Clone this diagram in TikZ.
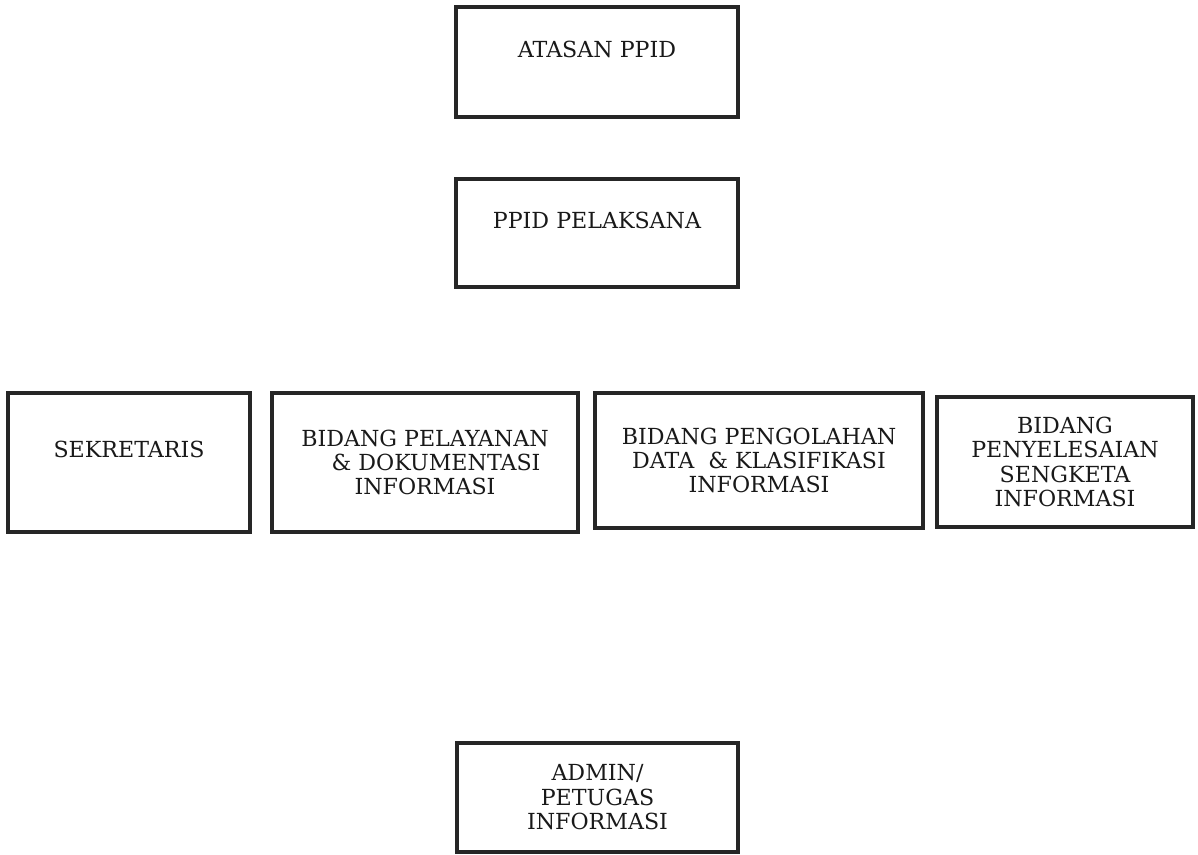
\documentclass[tikz,border=0pt]{standalone}
\usepackage{fontspec}
\setmainfont{DejaVu Serif}
\usepackage{tikz}

\tikzset{
	unitbox/.style={draw=black!85, line width=1.8pt, rectangle, align=center,
		font=\fontsize{12.6}{13.9}\selectfont, text=black!90, inner sep=2pt},
	raised/.style={text height=0.32cm, text depth=0.5cm}
}

\begin{document}
\begin{tikzpicture}
			%%%%% START %%%%%
			
			\useasboundingbox (0, 0) rectangle (23.96, 17.1);
			
			\node[unitbox, raised, minimum width=5.64cm, minimum height=2.2cm] (atasan) at (11.94, 15.86) {ATASAN PPID};
			
			\node[unitbox, raised, minimum width=5.64cm, minimum height=2.16cm] (pelaksana) at (11.94, 12.44) {PPID PELAKSANA};
			
			\node[unitbox, raised, minimum width=4.84cm, minimum height=2.78cm] (sekretaris) at (2.58, 7.85) {SEKRETARIS};
			\node[unitbox, minimum width=6.12cm, minimum height=2.78cm] (pelayanan) at (8.5, 7.85) {BIDANG PELAYANAN\\ \quad\& DOKUMENTASI\\ INFORMASI};
			\node[unitbox, minimum width=6.56cm, minimum height=2.7cm] (pengolahan) at (15.18, 7.89) {BIDANG PENGOLAHAN\\ DATA \ \& KLASIFIKASI\\ INFORMASI};
			\node[unitbox, minimum width=5.12cm, minimum height=2.6cm] (penyelesaian) at (21.3, 7.86) {BIDANG\\ PENYELESAIAN\\ SENGKETA\\ INFORMASI};
			
			\node[unitbox, minimum width=5.62cm, minimum height=2.18cm] (admin) at (11.95, 1.15) {ADMIN/\\ PETUGAS\\ INFORMASI};
			
			%%%%% END %%%%%
		\end{tikzpicture}
\end{document}
